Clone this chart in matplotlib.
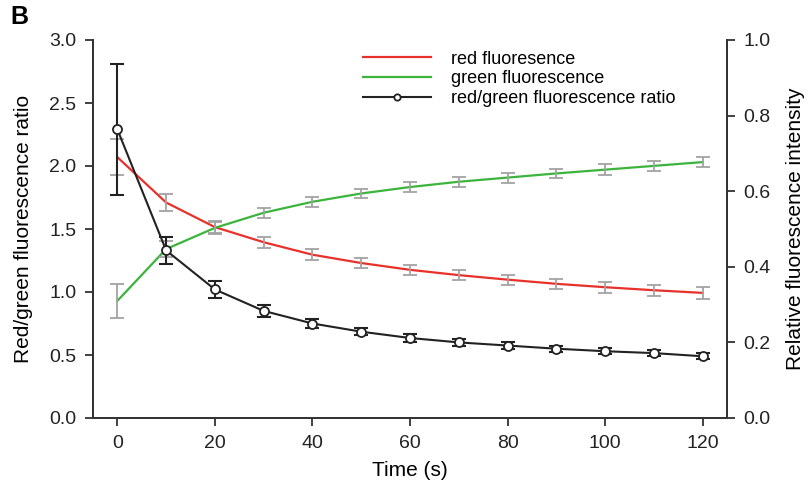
import matplotlib.pyplot as plt

plt.rcParams['font.family'] = ['Liberation Sans', 'DejaVu Sans']

time_s = [0, 10, 20, 30, 40, 50, 60, 70, 80, 90, 100, 110, 120]

ratio = [2.29, 1.33, 1.02, 0.85, 0.75, 0.685, 0.635, 0.60, 0.575, 0.55, 0.53, 0.515, 0.49]
ratio_err = [0.52, 0.11, 0.065, 0.045, 0.035, 0.03, 0.03, 0.025, 0.025, 0.025, 0.025, 0.025, 0.025]

red = [0.69, 0.57, 0.505, 0.465, 0.432, 0.41, 0.392, 0.378, 0.366, 0.355, 0.346, 0.338, 0.331]
red_err = [0.047, 0.022, 0.016, 0.014, 0.014, 0.013, 0.013, 0.013, 0.013, 0.013, 0.014, 0.014, 0.015]

green = [0.31, 0.447, 0.503, 0.543, 0.572, 0.594, 0.611, 0.625, 0.636, 0.647, 0.657, 0.667, 0.677]
green_err = [0.045, 0.02, 0.015, 0.013, 0.013, 0.013, 0.013, 0.013, 0.013, 0.013, 0.014, 0.014, 0.014]

x_ticks = [0, 20, 40, 60, 80, 100, 120]
left_ticks = [0.0, 0.5, 1.0, 1.5, 2.0, 2.5, 3.0]
right_ticks = [0.0, 0.2, 0.4, 0.6, 0.8, 1.0]

fig = plt.figure(figsize=(8.08, 4.92), dpi=100)
ax = fig.add_axes([93 / 808, 1 - 418 / 492, (727 - 93) / 808, (418 - 40) / 492])
ax2 = ax.twinx()

grey = '#a3a3a3'
axis_col = '#333333'

# red / green intensities on the right axis
ax2.plot(time_s, red, color='#e8312a', lw=1.6, zorder=2, label='red fluoresence')
ax2.plot(time_s, green, color='#3cb43c', lw=1.6, zorder=2, label='green fluorescence')
ax2.errorbar(time_s, red, yerr=red_err, fmt='none', ecolor=grey, elinewidth=1.3,
             capsize=5, capthick=1.3, zorder=3)
ax2.errorbar(time_s, green, yerr=green_err, fmt='none', ecolor=grey, elinewidth=1.3,
             capsize=5, capthick=1.3, zorder=3)

# ratio on the left axis, drawn above the other one
ax.set_zorder(ax2.get_zorder() + 1)
ax.patch.set_visible(False)
ax.errorbar(time_s, ratio, yerr=ratio_err, fmt='none', ecolor='#222222', elinewidth=1.5,
            capsize=5, capthick=1.5, zorder=3)
ax.plot(time_s, ratio, color='#222222', lw=1.5, marker='o', ms=6.5, mfc='white',
        mec='#222222', mew=1.3, zorder=4, label='red/green fluorescence ratio')

ax.set_xlim(-5, 125)
ax.set_ylim(0, 3.0)
ax2.set_ylim(0, 1.0)
ax.set_xticks(x_ticks)
ax.set_yticks(left_ticks)
ax.set_yticklabels([f'{v:.1f}' for v in left_ticks])
ax2.set_yticks(right_ticks)
ax2.set_yticklabels([f'{v:.1f}' for v in right_ticks])

for a in (ax, ax2):
    a.spines['top'].set_visible(False)
    for s in a.spines.values():
        s.set_linewidth(1.3)
        s.set_color(axis_col)
    a.tick_params(length=6, width=1.3, color=axis_col, labelsize=14, pad=6,
                  labelcolor='#222222')

ax.set_xlabel('Time (s)', fontsize=15, labelpad=7)
ax.set_ylabel('Red/green fluorescence ratio', fontsize=15, labelpad=12)
ax2.set_ylabel('Relative fluorescence intensity', fontsize=15, labelpad=11)

h2, l2 = ax2.get_legend_handles_labels()
h1, l1 = ax.get_legend_handles_labels()
leg = ax.legend(h2 + h1, l2 + l1, loc='upper left', bbox_to_anchor=(0.4, 1.015),
                frameon=False, fontsize=13, handlelength=3.8, labelspacing=0.15,
                handletextpad=1.1, markerscale=0.7)

fig.text(10 / 808, 1 - 24 / 492, 'B', fontsize=18, fontweight='bold')

fig.savefig('out.png', dpi=100)
